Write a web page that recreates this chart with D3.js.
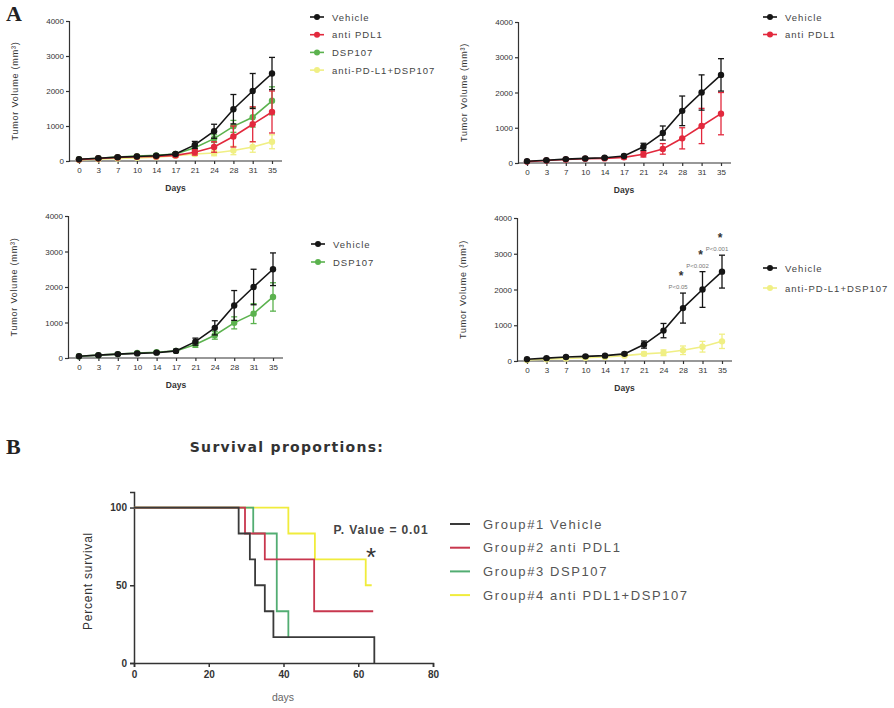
<!DOCTYPE html>
<html><head><meta charset="utf-8">
<script src="https://cdn.jsdelivr.net/npm/d3@7"></script>
<style>body{margin:0;background:#fff}svg{display:block}</style>
</head><body>
<svg id="c" width="894" height="708"></svg>
<script>
// ---------- DATA ----------
const days = ["0","3","7","10","14","17","21","24","28","31","35"];
const yTicks = [0,1000,2000,3000,4000];
const vehicleMean = [50,80,110,130,150,200,460,850,1480,2000,2500];
const vehicleErr  = [15,20,25,25,30,40,100,200,420,500,460];
const pdl1Mean = [40,70,100,120,130,160,250,400,700,1050,1400];
const pdl1Err  = [10,15,20,25,25,40,80,150,300,500,600];
const dspMean = [50,80,110,140,160,200,380,640,990,1250,1720];
const dspErr  = [15,20,25,25,30,40,80,110,170,280,400];
const comboMean = [30,50,70,90,110,150,200,230,300,400,550];
const comboErr  = [10,15,20,20,25,30,50,80,120,150,200];
const seriesNames = ["Vehicle","anti PDL1","DSP107","anti-PD-L1+DSP107"];
const pAnnot = [{day:"28", text:"P<0.05"},{day:"31", text:"P<0.002"},{day:"35", text:"P<0.001"}];

// survival (days, percent) step points
const survTicksX = [0,20,40,60,80];
const survTicksY = [0,50,100];
const survVehicle = [[0,100],[28,83.3],[31,66.7],[32.4,50],[35,33.3],[37.3,16.7],[64.3,0]];
const survPdl1    = [[0,100],[29.7,83.3],[35,66.7],[48.2,33.3],[64,33.3]];
const survDsp     = [[0,100],[31.9,83.3],[38.2,33.3],[41.3,16.7]];
const survCombo   = [[0,100],[41.3,83.3],[48.4,66.7],[62,50],[63.6,50]];
const survNames = ["Group#1 Vehicle","Group#2 anti PDL1","Group#3 DSP107","Group#4 anti PDL1+DSP107"];

// ---------- STYLE ----------
const col = {veh:"#151515", pdl:"#e2293d", dsp:"#5bb24e", combo:"#f0ef84"};
const scol = {veh:"#3a3a3a", pdl:"#c8374e", dsp:"#52ad72", combo:"#f0ec3c"};
const FONT = "Liberation Sans, Arial, sans-serif";
const svg = d3.select("#c");

const allSeries = {
  veh:{name:seriesNames[0], mean:vehicleMean, err:vehicleErr, c:col.veh},
  pdl:{name:seriesNames[1], mean:pdl1Mean, err:pdl1Err, c:col.pdl},
  dsp:{name:seriesNames[2], mean:dspMean, err:dspErr, c:col.dsp},
  combo:{name:seriesNames[3], mean:comboMean, err:comboErr, c:col.combo}
};

function growthPanel(cfg){
  const g = svg.append("g");
  const x = d3.scalePoint().domain(days).range([cfg.x0, cfg.x1]);
  const y = d3.scaleLinear().domain([0,4000]).range([cfg.yb, cfg.yt]);
  const ya = g.append("g").attr("transform",`translate(${cfg.ax},0)`)
    .call(d3.axisLeft(y).tickValues(yTicks).tickFormat(d3.format("d")).tickSize(3).tickPadding(2));
  const xa = g.append("g").attr("transform",`translate(0,${cfg.yb})`)
    .call(d3.axisBottom(x).tickSize(3).tickPadding(3));
  xa.select(".domain").attr("d",`M${cfg.ax},0H${cfg.x1+10}`);
  [ya,xa].forEach(a=>{
    a.selectAll(".domain,line").attr("stroke","#333").attr("stroke-width",1.2);
    a.selectAll("text").attr("font-family",FONT).attr("font-size",8).attr("fill","#333");
  });
  g.append("text").attr("transform",`translate(${cfg.ax-51},${(cfg.yt+cfg.yb)/2}) rotate(-90)`)
    .attr("text-anchor","middle").attr("font-family",FONT).attr("font-size",9).attr("letter-spacing",0.8).attr("fill","#333")
    .text("Tumor Volume (mm³)");
  g.append("text").attr("x",(cfg.x0+cfg.x1)/2).attr("y",cfg.yb+30).attr("text-anchor","middle")
    .attr("font-family",FONT).attr("font-size",8.5).attr("font-weight","bold").attr("fill","#333").text("Days");
  cfg.series.slice().reverse().forEach(k=>{
    const s = allSeries[k];
    const pts = days.map((d,i)=>({d, m:s.mean[i], e:s.err[i]}));
    const eg = g.append("g").attr("stroke",s.c).attr("stroke-width",1.3);
    pts.forEach(p=>{
      const cx = x(p.d);
      eg.append("line").attr("x1",cx).attr("x2",cx).attr("y1",y(p.m-p.e)).attr("y2",y(p.m+p.e));
      eg.append("line").attr("x1",cx-3).attr("x2",cx+3).attr("y1",y(p.m+p.e)).attr("y2",y(p.m+p.e));
      eg.append("line").attr("x1",cx-3).attr("x2",cx+3).attr("y1",y(p.m-p.e)).attr("y2",y(p.m-p.e));
    });
    g.append("path").datum(pts).attr("fill","none").attr("stroke",s.c).attr("stroke-width",1.6)
      .attr("d",d3.line().x(p=>x(p.d)).y(p=>y(p.m)));
    g.selectAll(null).data(pts).enter().append("circle")
      .attr("cx",p=>x(p.d)).attr("cy",p=>y(p.m)).attr("r",3.2).attr("fill",s.c);
  });
  cfg.series.forEach((k,i)=>{
    const s = allSeries[k];
    const ly = cfg.ly + i*cfg.lstep;
    g.append("line").attr("x1",cfg.lx).attr("x2",cfg.lx+14).attr("y1",ly).attr("y2",ly)
      .attr("stroke",s.c).attr("stroke-width",1.6);
    g.append("circle").attr("cx",cfg.lx+7).attr("cy",ly).attr("r",3).attr("fill",s.c);
    g.append("text").attr("x",cfg.lx+22).attr("y",ly+3.5).attr("font-family",FONT).attr("font-size",9.5)
      .attr("letter-spacing",1).attr("fill","#444").text(s.name);
  });
  if(cfg.annot){
    pAnnot.forEach(a=>{
      const i2 = days.indexOf(a.day);
      const top = y(vehicleMean[i2]+vehicleErr[i2]);
      g.append("text").attr("x",x(a.day)-5).attr("y",top-4).attr("text-anchor","middle")
        .attr("font-family",FONT).attr("font-size",6).attr("fill","#777").text(a.text);
      g.append("text").attr("x",x(a.day)-2).attr("y",top-13).attr("text-anchor","middle")
        .attr("font-family",FONT).attr("font-size",12).attr("font-weight","bold").attr("fill","#333").text("*");
    });
  }
}

growthPanel({ax:69, x0:79, x1:272, yt:21, yb:161, series:["veh","pdl","dsp","combo"], lx:310, ly:17, lstep:17.7});
growthPanel({ax:518, x0:527, x1:721, yt:22, yb:163, series:["veh","pdl"], lx:763, ly:17, lstep:17.5});
growthPanel({ax:68, x0:79, x1:273, yt:216, yb:358, series:["veh","dsp"], lx:311, ly:244, lstep:18});
growthPanel({ax:517, x0:527, x1:722, yt:218, yb:361, series:["veh","combo"], lx:763, ly:268, lstep:20, annot:true});

svg.append("text").attr("x",6).attr("y",21).attr("font-family","Liberation Serif, Times New Roman, serif")
  .attr("font-size",22).attr("font-weight","bold").attr("fill","#222").text("A");
svg.append("text").attr("x",6).attr("y",454).attr("font-family","Liberation Serif, Times New Roman, serif")
  .attr("font-size",22).attr("font-weight","bold").attr("fill","#222").text("B");

// ---------- Survival ----------
(function(){
  const g = svg.append("g");
  const x = d3.scaleLinear().domain([0,80]).range([134,433]);
  const y = d3.scaleLinear().domain([0,110]).range([663,492]);
  const xa = g.append("g").attr("transform","translate(0,663)")
    .call(d3.axisBottom(x).tickValues(survTicksX).tickSize(4).tickPadding(4));
  const ya = g.append("g").attr("transform","translate(134,0)")
    .call(d3.axisLeft(y).tickValues(survTicksY).tickSize(4).tickPadding(3));
  [xa,ya].forEach(a=>{
    a.selectAll(".domain,line").attr("stroke","#333").attr("stroke-width",1.5);
    a.selectAll("text").attr("font-family",FONT).attr("font-size",10).attr("font-weight","bold").attr("fill","#333");
  });
  g.append("text").attr("x",287).attr("y",452).attr("text-anchor","middle").attr("font-family","DejaVu Sans, sans-serif")
    .attr("font-size",14).attr("letter-spacing",1.3).attr("font-weight","bold").attr("fill","#333").text("Survival proportions:");
  g.append("text").attr("transform","translate(92,581) rotate(-90)").attr("text-anchor","middle")
    .attr("font-family",FONT).attr("font-size",12).attr("letter-spacing",0.8).attr("fill","#333").text("Percent survival");
  g.append("text").attr("x",283).attr("y",701).attr("text-anchor","middle")
    .attr("font-family",FONT).attr("font-size",10.5).attr("fill","#666").text("days");
  const line = d3.line().x(d=>x(d[0])).y(d=>y(d[1])).curve(d3.curveStepAfter);
  const list = [[survCombo,scol.combo],[survDsp,scol.dsp],[survPdl1,scol.pdl],[survVehicle,scol.veh]];
  list.forEach(([data,c])=>{
    g.append("path").datum(data).attr("fill","none").attr("stroke",c).attr("stroke-width",1.8).attr("d",line);
  });
  g.append("text").attr("x",381).attr("y",534).attr("text-anchor","middle").attr("font-family",FONT)
    .attr("font-size",12).attr("letter-spacing",0.9).attr("font-weight","bold").attr("fill","#444").text("P. Value = 0.01");
  g.append("text").attr("x",371).attr("y",566).attr("text-anchor","middle").attr("font-family",FONT)
    .attr("font-size",26).attr("fill","#333").text("*");
  const lc = [scol.veh,scol.pdl,scol.dsp,scol.combo];
  survNames.forEach((n,i)=>{
    const ly = 524 + i*23.7;
    g.append("line").attr("x1",450).attr("x2",470).attr("y1",ly).attr("y2",ly).attr("stroke",lc[i]).attr("stroke-width",2);
    g.append("text").attr("x",483).attr("y",ly+4.5).attr("font-family",FONT).attr("font-size",13)
      .attr("letter-spacing",1.6).attr("fill","#555").text(n);
  });
})();
</script>
</body></html>
